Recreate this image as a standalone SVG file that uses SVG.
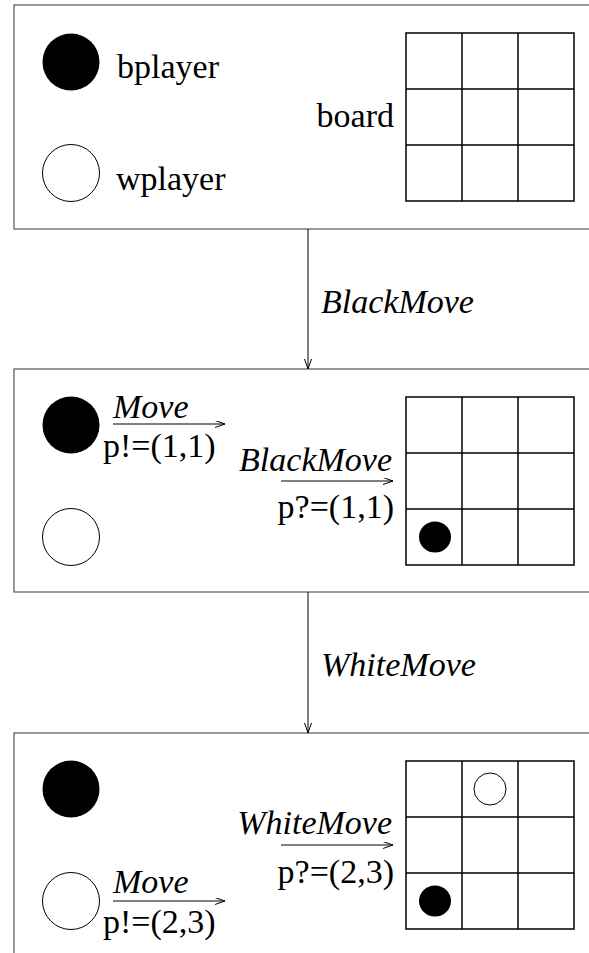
<svg xmlns="http://www.w3.org/2000/svg" width="589" height="953" viewBox="0 0 589 953">
<defs>
<style>
.box{fill:#fff;stroke:#555;stroke-width:1.2}
.grid{fill:none;stroke:#000;stroke-width:1.5}
.blk{fill:#000}
.wht{fill:#fff;stroke:#000;stroke-width:1}
.t{font-family:"Liberation Serif","Times New Roman",serif;font-size:34px;fill:#000}
.i{font-style:italic}
.ln{stroke:#000;stroke-width:1;fill:none}
</style>
<marker id="ah" markerUnits="userSpaceOnUse" markerWidth="12" markerHeight="8" refX="10" refY="3.5" orient="auto">
<path d="M0,0 L10,3.5 L0,7" fill="none" stroke="#000" stroke-width="1"/>
</marker>
<symbol id="board" overflow="visible">
<rect x="0" y="0" width="168" height="168" class="grid"/>
<line x1="56" y1="0" x2="56" y2="168" class="grid"/>
<line x1="112" y1="0" x2="112" y2="168" class="grid"/>
<line x1="0" y1="56" x2="168" y2="56" class="grid"/>
<line x1="0" y1="112" x2="168" y2="112" class="grid"/>
</symbol>
</defs>
<rect width="589" height="953" fill="#fff"/>

<g id="state1">
<rect x="14" y="5" width="600" height="224" class="box"/>
<ellipse cx="71" cy="62" rx="28.5" ry="28.5" class="blk"/>
<text x="117" y="78" class="t">bplayer</text>
<ellipse cx="71" cy="173" rx="28.5" ry="28.5" class="wht"/>
<text x="116" y="190" class="t">wplayer</text>
<text x="394" y="127" class="t" text-anchor="end">board</text>
<use href="#board" x="406" y="33"/>
</g>

<g id="state2">
<rect x="14" y="369" width="600" height="223" class="box"/>
<ellipse cx="71" cy="425" rx="28.5" ry="28.5" class="blk"/>
<ellipse cx="71" cy="537" rx="28.5" ry="28.5" class="wht"/>
<text x="113" y="418" class="t i">Move</text>
<line x1="113" y1="424" x2="225" y2="424" class="ln" marker-end="url(#ah)"/>
<text x="103" y="457" class="t">p!=(1,1)</text>
<text x="392" y="471" class="t i" text-anchor="end">BlackMove</text>
<line x1="281" y1="481" x2="393" y2="481" class="ln" marker-end="url(#ah)"/>
<text x="394" y="518" class="t" text-anchor="end">p?=(1,1)</text>
<use href="#board" x="406" y="397"/>
<ellipse cx="435" cy="537" rx="16" ry="15.5" class="blk"/>
</g>

<g id="state3">
<rect x="14" y="733" width="600" height="240" class="box"/>
<ellipse cx="71" cy="789" rx="28.5" ry="28.5" class="blk"/>
<ellipse cx="71" cy="901" rx="28.5" ry="28.5" class="wht"/>
<text x="113" y="893" class="t i">Move</text>
<line x1="113" y1="901" x2="225" y2="901" class="ln" marker-end="url(#ah)"/>
<text x="103" y="933" class="t">p!=(2,3)</text>
<text x="392" y="834" class="t i" text-anchor="end">WhiteMove</text>
<line x1="281" y1="845" x2="393" y2="845" class="ln" marker-end="url(#ah)"/>
<text x="394" y="883" class="t" text-anchor="end">p?=(2,3)</text>
<use href="#board" x="406" y="761"/>
<ellipse cx="490" cy="789" rx="16" ry="16" class="wht"/>
<ellipse cx="435" cy="901" rx="16" ry="15.5" class="blk"/>
</g>

<g id="connectors">
<line x1="308" y1="229" x2="308" y2="369" class="ln" marker-end="url(#ah)"/>
<text x="321" y="313" class="t i">BlackMove</text>
<line x1="308" y1="592" x2="308" y2="733" class="ln" marker-end="url(#ah)"/>
<text x="321" y="676" class="t i">WhiteMove</text>
</g>
</svg>
